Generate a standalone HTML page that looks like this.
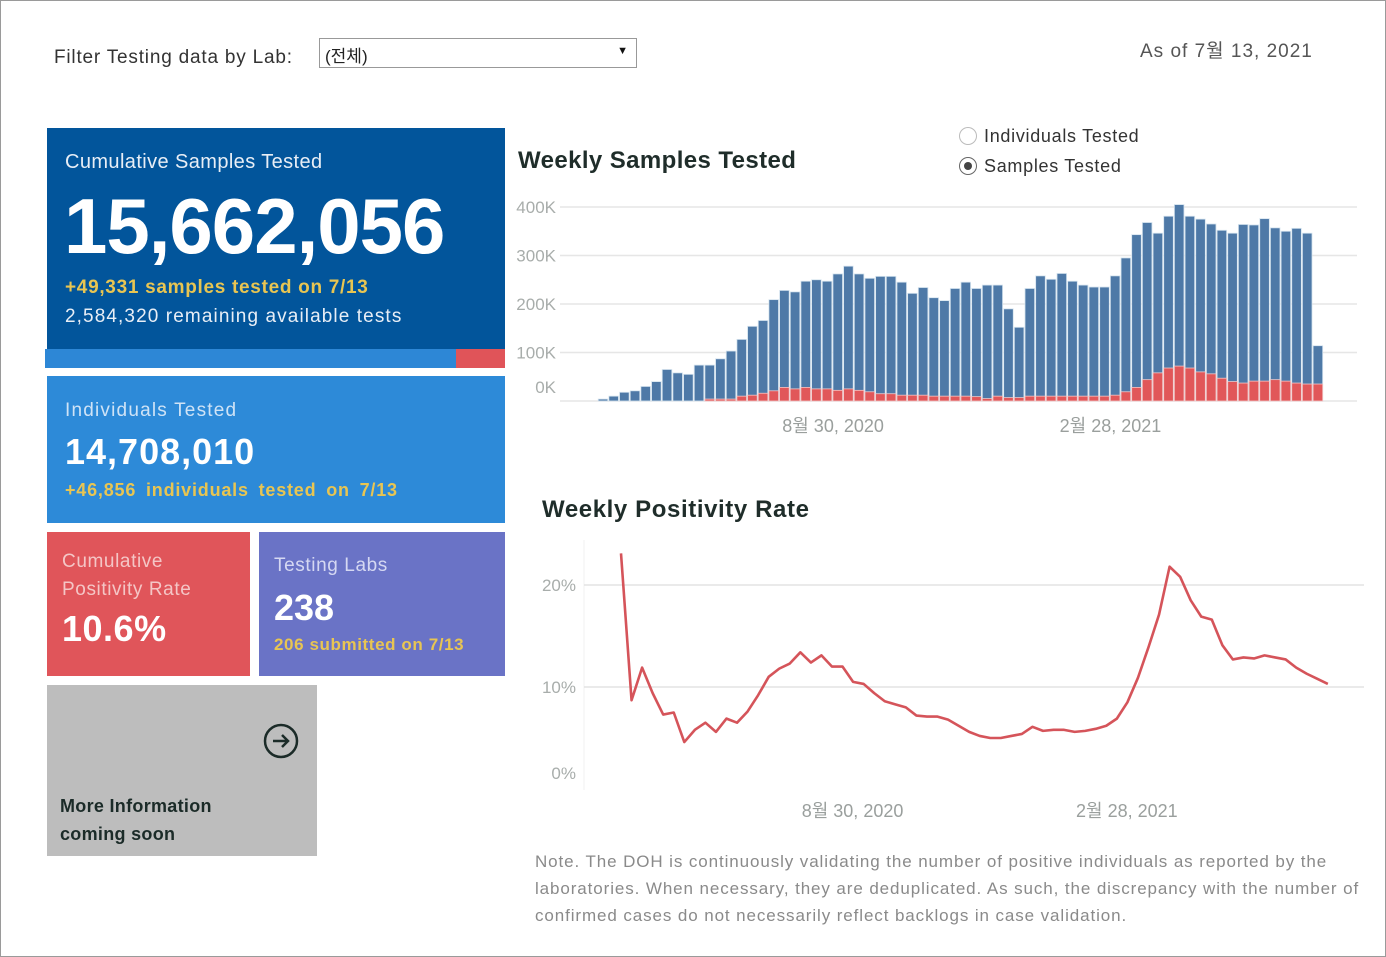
<!DOCTYPE html>
<html><head><meta charset="utf-8">
<style>
body{margin:0;width:1386px;height:957px;position:relative;background:#fff;font-family:"Liberation Sans","Noto Sans CJK KR",sans-serif;overflow:hidden}
.frame{position:absolute;left:0;top:0;width:1384px;height:955px;border:1px solid #9a9a9a}
.abs{position:absolute;white-space:nowrap}
.card{position:absolute;color:#fff}
</style></head><body>
<div class="frame"></div>
<div class="abs" style="left:54px;top:47px;font-size:19px;letter-spacing:0.8px;color:#333">Filter Testing data by Lab:</div>
<div class="abs" style="left:319px;top:38px;width:316px;height:28px;border:1px solid #999;background:#fff">
 <span style="position:absolute;left:5px;top:3px;font-size:17px;color:#222">(전체)</span>
 <span style="position:absolute;right:8px;top:6px;font-size:11px;color:#111">▼</span>
</div>
<div class="abs" style="left:1140px;top:36px;font-size:19px;letter-spacing:1px;color:#555">As of 7월 13, 2021</div>

<div class="card" style="left:47px;top:128px;width:458px;height:221px;background:#02559b">
 <div class="abs" style="left:18px;top:23px;font-size:20px;letter-spacing:0.4px;color:#e8eef6">Cumulative Samples Tested</div>
 <div class="abs" style="left:17px;top:53px;font-size:78px;font-weight:bold;letter-spacing:-1px">15,662,056</div>
 <div class="abs" style="left:18px;top:149px;font-size:19px;font-weight:bold;letter-spacing:0.7px;color:#e8c552">+49,331 samples tested on 7/13</div>
 <div class="abs" style="left:18px;top:178px;font-size:19px;letter-spacing:1.1px;color:#e8eef6">2,584,320 remaining available tests</div>
</div>
<div class="abs" style="left:45px;top:349px;width:411px;height:19px;background:#2d87d6"></div>
<div class="abs" style="left:456px;top:349px;width:49px;height:19px;background:#e05459"></div>

<div class="card" style="left:47px;top:376px;width:458px;height:147px;background:#2d8ad8">
 <div class="abs" style="left:18px;top:24px;font-size:19px;letter-spacing:1.2px;color:#cfe3f6">Individuals Tested</div>
 <div class="abs" style="left:18px;top:55px;font-size:36px;font-weight:bold;letter-spacing:1px">14,708,010</div>
 <div class="abs" style="left:18px;top:104px;font-size:18px;font-weight:bold;letter-spacing:0.8px;word-spacing:4px;color:#e8c552">+46,856 individuals tested on 7/13</div>
</div>
<div class="card" style="left:47px;top:532px;width:203px;height:144px;background:#e0555a">
 <div class="abs" style="left:15px;top:16px;font-size:19px;letter-spacing:0.6px;line-height:28px;color:#f4c6c6">Cumulative<br>Positivity Rate</div>
 <div class="abs" style="left:15px;top:76px;font-size:36px;font-weight:bold;letter-spacing:0.5px">10.6%</div>
</div>
<div class="card" style="left:259px;top:532px;width:246px;height:144px;background:#6a73c6">
 <div class="abs" style="left:15px;top:23px;font-size:19px;letter-spacing:0.6px;color:#d5d8f2">Testing Labs</div>
 <div class="abs" style="left:15px;top:55px;font-size:36px;font-weight:bold">238</div>
 <div class="abs" style="left:15px;top:103px;font-size:17px;font-weight:bold;letter-spacing:0.6px;color:#e8c552">206 submitted on 7/13</div>
</div>
<div class="card" style="left:47px;top:685px;width:270px;height:171px;background:#bdbdbd;color:#1b2b28">
 <svg class="abs" style="left:216px;top:38px" width="36" height="36"><circle cx="18" cy="18" r="16" fill="none" stroke="#1b2b28" stroke-width="2.5"/><path d="M10 18h15M19 12l6 6-6 6" fill="none" stroke="#1b2b28" stroke-width="2.5"/></svg>
 <div class="abs" style="left:13px;top:107px;font-size:18px;font-weight:bold;line-height:28px;letter-spacing:0.3px">More Information<br>coming soon</div>
</div>

<div class="abs" style="left:518px;top:147px;font-size:24px;font-weight:bold;letter-spacing:0.4px;color:#1f2d2a">Weekly Samples Tested</div>
<div class="abs" style="left:959px;top:126px;font-size:18px;letter-spacing:0.7px;color:#333"><span style="display:inline-block;width:16px;height:16px;border:1px solid #bbb;border-radius:50%;vertical-align:-3px;margin-right:7px"></span>Individuals Tested</div>
<div class="abs" style="left:959px;top:156px;font-size:18px;letter-spacing:0.7px;color:#333"><span style="display:inline-block;width:16px;height:16px;border:1px solid #666;border-radius:50%;vertical-align:-3px;margin-right:7px;position:relative"><span style="position:absolute;left:4px;top:4px;width:8px;height:8px;border-radius:50%;background:#444"></span></span>Samples Tested</div>

<svg id="bars" class="abs" style="left:0;top:0" width="1386" height="460"></svg>

<div class="abs" style="left:542px;top:496px;font-size:24px;font-weight:bold;letter-spacing:0.6px;color:#1f2d2a">Weekly Positivity Rate</div>
<svg id="line" class="abs" style="left:0;top:530px" width="1386" height="300"></svg>

<div class="abs" style="left:535px;top:848px;font-size:17px;line-height:27px;letter-spacing:0.9px;color:#8a8a8a">Note. The DOH is continuously validating the number of positive individuals as reported by the<br>laboratories. When necessary, they are deduplicated. As such, the discrepancy with the number of<br>confirmed cases do not necessarily reflect backlogs in case validation.</div>

<script>
const samples=[4,10,18,21,30,40,65,58,55,74,74,87,103,127,154,166,209,228,225,247,250,247,262,278,262,253,257,257,245,222,234,213,207,232,245,232,239,239,190,152,232,258,251,263,247,239,235,235,258,295,343,368,346,381,405,381,375,365,352,346,364,363,376,357,350,356,346,114];
const positives=[0,0,0,0,0,0,0,0,0,0,4,4,4,10,12,16,21,28,25,28,25,25,22,25,22,19,15,15,12,12,12,10,10,10,10,9,5,10,7,7,10,10,10,10,10,10,10,10,12,19,28,44,58,68,72,68,60,56,47,40,37,41,41,44,41,37,35,35,10];
const sampleTicks=[0,100,200,300,400];
const sampleTickLabels=["0K","100K","200K","300K","400K"];
const rates=[23.1,8.7,11.9,9.4,7.3,7.5,4.6,5.8,6.5,5.6,6.9,6.5,7.6,9.2,11.0,11.8,12.3,13.4,12.4,13.1,12.0,12.0,10.5,10.3,9.4,8.6,8.3,8.0,7.2,7.1,7.1,6.8,6.2,5.6,5.2,5.0,5.0,5.2,5.4,6.1,5.7,5.8,5.8,5.6,5.7,5.9,6.2,6.9,8.5,10.9,13.9,17.1,21.8,20.8,18.5,16.9,16.6,14.1,12.7,12.9,12.8,13.1,12.9,12.7,11.9,11.3,10.8,10.3];
const rateTicks=[0,10,20];
const rateTickLabels=["0%","10%","20%"];
const dateLabels=["8월 30, 2020","2월 28, 2021"];
const dateLabelIdx=[21,47];
const NS="http://www.w3.org/2000/svg";
function mk(svg,tag,attrs){const e=document.createElementNS(NS,tag);for(const k in attrs)e.setAttribute(k,attrs[k]);svg.appendChild(e);return e;}

const bs=document.getElementById('bars');
const bx=i=>603+i*10.67;
const by=v=>401-v*0.485;
sampleTicks.forEach((t,i)=>{
 const g=mk(bs,'line',{x1:560,x2:1357,y1:by(t),y2:by(t),stroke:'#e6e6e6','stroke-width':1.5});
 
 
 const tx=mk(bs,'text',{x:556,y:(t===0?393:by(t)+6),'text-anchor':'end','font-size':17,fill:'#a8adab','font-family':'Liberation Sans, sans-serif'});
 tx.textContent=sampleTickLabels[i];
 
 
});
samples.forEach((v,i)=>{
 const r=mk(bs,'rect',{x:bx(i)-4.8,y:by(v),width:9.6,height:by(0)-by(v),fill:'#4e79a7',stroke:'#d6e4ef','stroke-width':0.8});
 
 
 const p=positives[i];
 if(p>0){const q=mk(bs,'rect',{x:bx(i)-4.8,y:by(p),width:9.6,height:by(0)-by(p),fill:'#e15759',stroke:'#f2c6c6','stroke-width':0.8});
 
 }
});
dateLabels.forEach((d,i)=>{
 const t=mk(bs,'text',{x:bx(dateLabelIdx[i])+6,y:432,'text-anchor':'middle','font-size':18,fill:'#9a9f9d','font-family':'Liberation Sans, Noto Sans CJK KR, sans-serif'});
 t.textContent=d;
 
 
});

const ls=document.getElementById('line');
const lx=i=>621+i*10.55;
const ly=v=>259-v*10.2;
mk(ls,'line',{x1:584,x2:584,y1:10,y2:260,stroke:'#f0f0f0','stroke-width':1});
rateTicks.forEach((t,i)=>{
 if(t>0){const g=mk(ls,'line',{x1:584,x2:1364,y1:ly(t),y2:ly(t),stroke:'#e3e3e3','stroke-width':1.5});
 
 }
 const tx=mk(ls,'text',{x:576,y:(t===0?249:ly(t)+6),'text-anchor':'end','font-size':17,fill:'#a8adab','font-family':'Liberation Sans, sans-serif'});
 tx.textContent=rateTickLabels[i];
 
 
});
const pl=mk(ls,'polyline',{points:rates.map((v,i)=>lx(i)+','+ly(v)).join(' '),fill:'none',stroke:'#d5545a','stroke-width':2.6,'stroke-linejoin':'round'});


dateLabels.forEach((d,i)=>{
 const t=mk(ls,'text',{x:lx(dateLabelIdx[i])+10,y:287,'text-anchor':'middle','font-size':18,fill:'#9a9f9d','font-family':'Liberation Sans, Noto Sans CJK KR, sans-serif'});
 t.textContent=d;
 
 
});
</script>
</body></html>
